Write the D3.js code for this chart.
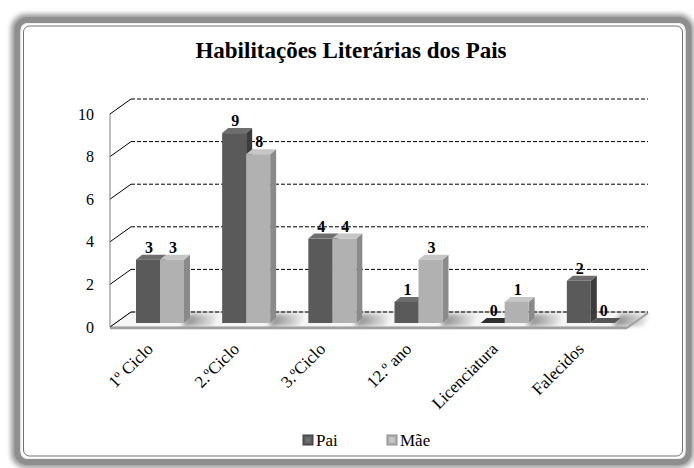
<!DOCTYPE html>
<html><head><meta charset="utf-8">
<script src="https://cdn.jsdelivr.net/npm/d3@7"></script>
<style>
html,body{margin:0;padding:0;background:#fff;}
svg{display:block;}
svg text{font-family:'Liberation Serif', 'Times New Roman', Times, serif !important;}
</style></head>
<body>
<svg id="chart" width="694" height="468"></svg>
<script>
const title = "Habilitações Literárias dos Pais";
const categories = ["1º Ciclo", "2.ºCiclo", "3.ºCiclo", "12.º ano", "Licenciatura", "Falecidos"];
const seriesNames = ["Pai", "Mãe"];
const paiValues = [3, 9, 4, 1, 0, 2];
const maeValues = [3, 8, 4, 3, 1, 0];
const yTicks = [0, 2, 4, 6, 8, 10];

const FONT = "'Liberation Serif', 'Times New Roman', Times, serif";
const svg = d3.select("#chart");
const defs = svg.append("defs");
defs.append("filter").attr("id","blur").attr("x","-30%").attr("y","-50%").attr("width","160%").attr("height","200%")
  .append("feGaussianBlur").attr("stdDeviation", 2);
defs.append("filter").attr("id","blur2").attr("x","-50%").attr("y","-50%").attr("width","200%").attr("height","200%")
  .append("feGaussianBlur").attr("stdDeviation", 2.5);
const sg = defs.append("linearGradient").attr("id","shadowGrad").attr("x1","0").attr("x2","1").attr("y1","0").attr("y2","0");
sg.append("stop").attr("offset","0%").attr("stop-color","#808080");
sg.append("stop").attr("offset","100%").attr("stop-color","#f6f6f6");

// frame
svg.append("rect").attr("x",15).attr("y",18).attr("width",675).attr("height",446).attr("rx",11)
  .attr("fill","none").attr("stroke","#9a9a9a").attr("stroke-width",8).attr("filter","url(#blur2)");
svg.append("rect").attr("x",17.5).attr("y",20).attr("width",671).attr("height",442).attr("rx",10)
  .attr("fill","#fff").attr("stroke","#8e8e8e").attr("stroke-width",6);
svg.append("rect").attr("x",21).attr("y",23.5).attr("width",664).attr("height",435).attr("rx",8)
  .attr("fill","none").attr("stroke","#f0f0f0").attr("stroke-width",1.2);
svg.append("rect").attr("x",23.5).attr("y",26).attr("width",659).attr("height",430).attr("rx",6)
  .attr("fill","#fff").attr("stroke","#707070").attr("stroke-width",1);

// title
svg.append("text").attr("x",351).attr("y",58).attr("text-anchor","middle").attr("font-family",FONT)
  .attr("font-size",23).attr("font-weight","bold").attr("fill","#000").text(title);

// geometry
const frontLeft = 110, frontRight = 627;
const DX = 21, DY = -15;
const yFront = d3.scaleLinear().domain([0,10]).range([327,114]);
const yBar = d3.scaleLinear().domain([0,10]).range([323,112]);
const x = d3.scaleBand().domain(categories).range([frontLeft, frontRight]).padding(0);
const bw = x.bandwidth();
const xSub = d3.scaleBand().domain(seriesNames).range([bw*0.232, bw*0.789]).padding(0);
const barW = xSub.bandwidth();
const bdx = 6, bdy = -5, baseShift = 6;
const pts = a => a.map(p=>p.join(",")).join(" ");

// floor
const g = svg.append("g");
const y0 = yFront(0);
g.append("polygon")
  .attr("points", pts([[frontLeft,y0],[frontRight,y0],[frontRight+DX,y0+DY],[frontLeft+DX,y0+DY]]))
  .attr("fill","#f6f6f6").attr("stroke","#a8a8a8").attr("stroke-width",1);

// floor shadows (to the right of each bar group)
const shadowG = g.append("g").attr("filter","url(#blur)");
categories.forEach((c,i)=>{
  const sx = x(c) + xSub("Mãe") + baseShift + barW;
  shadowG.append("polygon")
    .attr("points", pts([[sx-2,y0-1],[sx+28,y0-1],[sx+36,y0+DY+2],[sx+6,y0+DY+2]]))
    .attr("fill","url(#shadowGrad)");
});

// floor front edge
g.append("line").attr("x1",frontLeft).attr("x2",frontRight).attr("y1",y0+1).attr("y2",y0+1)
  .attr("stroke","#a0a0a0").attr("stroke-width",2.5);
g.append("line").attr("x1",frontRight).attr("x2",frontRight+DX).attr("y1",y0+1).attr("y2",y0+DY+1)
  .attr("stroke","#a0a0a0").attr("stroke-width",2);

// left wall + gridlines
yTicks.forEach(v=>{
  const yf = yFront(v);
  g.append("line").attr("x1",frontLeft).attr("y1",yf).attr("x2",frontLeft+DX).attr("y2",yf+DY)
    .attr("stroke","#000").attr("stroke-width",1);
  g.append("line").attr("x1",frontLeft+DX).attr("y1",yf+DY).attr("x2",frontRight+DX).attr("y2",yf+DY)
    .attr("stroke","#000").attr("stroke-width",1).attr("stroke-dasharray","4,2");
});
g.append("line").attr("x1",frontLeft).attr("x2",frontLeft).attr("y1",yFront(10)).attr("y2",y0)
  .attr("stroke","#7a7a7a").attr("stroke-width",1);

// y axis labels
const yAxis = d3.axisLeft(yFront).tickValues(yTicks).tickSize(0).tickPadding(16).tickFormat(d3.format("d"));
const ax = svg.append("g").attr("transform",`translate(${frontLeft},0)`).call(yAxis);
ax.attr("font-family", FONT).attr("font-size", 16);
ax.select(".domain").remove();
ax.selectAll("text").attr("font-size",16).attr("fill","#000").attr("font-family", FONT);

// bars
const colors = {
  "Pai": {front:"#5a5a5a", top:"#6e6e6e", side:"#3c3c3c", zero:"#2f2f2f"},
  "Mãe": {front:"#b1b1b1", top:"#c6c6c6", side:"#8a8a8a", zero:"#555555"}
};
const data = [];
categories.forEach((c,i)=>{
  data.push({cat:c, s:"Pai", v:paiValues[i]});
  data.push({cat:c, s:"Mãe", v:maeValues[i]});
});
const bars = svg.append("g");
data.forEach(d=>{
  const bx = x(d.cat) + xSub(d.s) + baseShift;
  const yb = yBar(0), yt = yBar(d.v);
  const col = colors[d.s];
  if (d.v === 0) {
    bars.append("polygon").attr("points", pts([[bx,yb],[bx+barW,yb],[bx+barW+bdx,yb+bdy],[bx+bdx,yb+bdy]]))
      .attr("fill", col.zero);
  } else {
    bars.append("polygon").attr("points", pts([[bx+barW,yt],[bx+barW+bdx,yt+bdy],[bx+barW+bdx,yb+bdy],[bx+barW,yb]]))
      .attr("fill", col.side);
    bars.append("polygon").attr("points", pts([[bx,yt],[bx+bdx,yt+bdy],[bx+barW+bdx,yt+bdy],[bx+barW,yt]]))
      .attr("fill", col.top);
    bars.append("rect").attr("x",bx).attr("y",yt).attr("width",barW).attr("height",yb-yt)
      .attr("fill", col.front);
  }
  bars.append("text").attr("x", bx + barW/2 + 1).attr("y", yt - 7).attr("font-family",FONT)
    .attr("text-anchor","middle").attr("font-size",16).attr("font-weight","bold").attr("fill","#000")
    .text(d.v);
});

// category labels
svg.append("g").selectAll("text").data(categories).join("text")
  .attr("transform", c => `translate(${x(c)+bw/2+1},350) rotate(-45)`).attr("font-family",FONT)
  .attr("text-anchor","end").attr("font-size",17).attr("fill","#000").text(c=>c);

// legend
const legend = svg.append("g");
const legendX = [303, 387];
seriesNames.forEach((s,i)=>{
  const lg = legend.append("g").attr("transform",`translate(${legendX[i]},435)`);
  lg.append("rect").attr("width",10).attr("height",10).attr("fill",colors[s].front).attr("stroke",colors[s].side).attr("stroke-width",1);
  lg.append("rect").attr("x",2.5).attr("y",2.5).attr("width",5).attr("height",5).attr("fill",colors[s].top);
  lg.append("text").attr("x",13).attr("y",11).attr("font-family",FONT).attr("font-size",17).attr("fill","#000").text(s);
});
</script>
</body></html>
